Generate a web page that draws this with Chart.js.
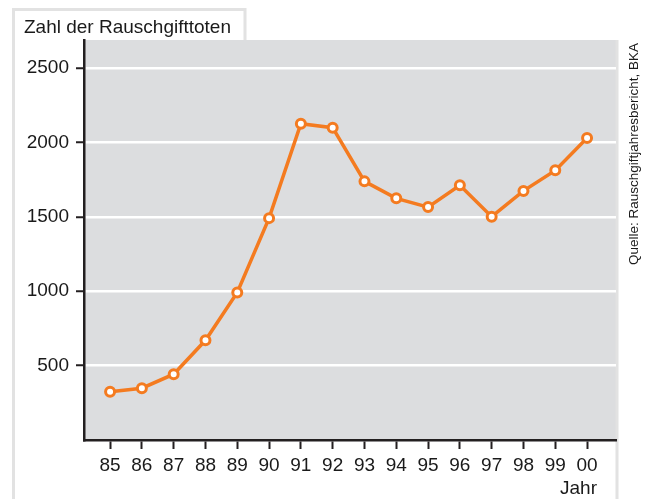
<!DOCTYPE html>
<html>
<head>
<meta charset="utf-8">
<script src="https://cdn.jsdelivr.net/npm/chart.js@4/dist/chart.umd.min.js"></script>
<style>
  body { margin: 0; background: #fff; }
  canvas { display: block; }
</style>
</head>
<body>
<canvas id="chart" width="648" height="499"></canvas>
<script>
const years = ["85", "86", "87", "88", "89", "90", "91", "92", "93", "94", "95", "96", "97", "98", "99", "00"];
const deaths = [324, 348, 442, 670, 991, 1491, 2125, 2099, 1738, 1624, 1565, 1712, 1501, 1674, 1812, 2030];
const yTicks = [500, 1000, 1500, 2000, 2500];

const orange = "#f47b20";
const plotGray = "#dcdddf";
const frameGray = "#e2e2e2";
const axisBlack = "#231f20";
const font = "'Liberation Sans', Arial, sans-serif";

const decorations = {
  id: "decorations",
  beforeDraw(chart) {
    const { ctx, chartArea } = chart;
    ctx.save();
    // plot background
    ctx.fillStyle = plotGray;
    ctx.fillRect(chartArea.left, chartArea.top, chartArea.right - chartArea.left, chartArea.bottom - chartArea.top);

    // light frame with the title tab
    ctx.strokeStyle = frameGray;
    ctx.lineWidth = 3;
    ctx.beginPath();
    ctx.moveTo(13.5, 499);
    ctx.lineTo(13.5, 9.5);
    ctx.lineTo(245, 9.5);
    ctx.lineTo(245, chartArea.top);
    ctx.stroke();
    ctx.beginPath();
    ctx.moveTo(chartArea.right + 1, chartArea.top);
    ctx.lineTo(chartArea.right + 1, 499);
    ctx.stroke();

    // title
    ctx.fillStyle = "#1a1a1a";
    ctx.font = "19px " + font;
    ctx.textAlign = "left";
    ctx.textBaseline = "alphabetic";
    ctx.fillText("Zahl der Rauschgifttoten", 24, 33);

    // axis name
    ctx.textAlign = "right";
    ctx.fillText("Jahr", 597, 494);

    // source, rotated
    ctx.font = "13.5px " + font;
    ctx.translate(638, 154);
    ctx.rotate(-Math.PI / 2);
    ctx.textAlign = "center";
    ctx.fillText("Quelle: Rauschgiftjahresbericht, BKA", 0, 0);
    ctx.restore();
  },
};

new Chart(document.getElementById("chart"), {
  type: "line",
  data: {
    datasets: [
      {
        data: deaths.map((v, i) => ({ x: i, y: v })),
        borderColor: orange,
        borderWidth: 3.5,
        pointRadius: 4.5,
        pointBorderWidth: 3,
        pointBackgroundColor: "#fff",
        pointBorderColor: orange,
        tension: 0,
      },
    ],
  },
  options: {
    responsive: false,
    animation: false,
    layout: { padding: { left: 0, top: 40, right: 32, bottom: 0 } },
    plugins: { legend: { display: false }, tooltip: { enabled: false } },
    scales: {
      x: {
        type: "linear",
        min: -0.82,
        max: 15.91,
        afterBuildTicks: (axis) => {
          axis.ticks = years.map((_, i) => ({ value: i }));
        },
        afterFit: (axis) => {
          axis.height = 59;
        },
        border: { color: axisBlack, width: 2.5 },
        grid: { drawOnChartArea: false, tickLength: 9, tickColor: axisBlack, tickWidth: 2 },
        ticks: {
          padding: 5,
          color: "#1a1a1a",
          font: { family: font, size: 19 },
          maxRotation: 0,
          callback: (v) => years[v],
        },
      },
      y: {
        min: 0,
        max: 2688,
        afterBuildTicks: (axis) => {
          axis.ticks = yTicks.map((v) => ({ value: v }));
        },
        afterFit: (axis) => {
          axis.width = 84;
        },
        border: { color: axisBlack, width: 2.5 },
        grid: { color: "#fff", lineWidth: 2.5, tickLength: 8, tickColor: axisBlack, tickWidth: 2 },
        ticks: {
          padding: 7,
          color: "#1a1a1a",
          font: { family: font, size: 19 },
          callback: (v) => String(v),
        },
      },
    },
  },
  plugins: [decorations],
});
</script>
</body>
</html>
